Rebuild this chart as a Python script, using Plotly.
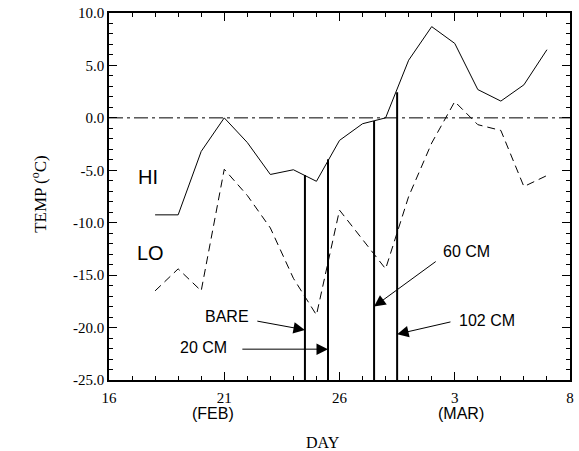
import plotly.graph_objects as go

# ---- data ----
days = list(range(2, 20))  # days after Feb 16 (0 = Feb 16, 20 = Mar 8)
hi_temp = [-9.25, -9.25, -3.2, 0.0, -2.35, -5.4, -4.95, -6.05, -2.15, -0.56, 0.0,
           5.5, 8.7, 7.1, 2.7, 1.6, 3.15, 6.5]
lo_temp = [-16.5, -14.4, -16.5, -4.9, -7.4, -10.5, -15.3, -18.8, -8.8, -11.6, -14.4,
           -7.5, -2.4, 1.55, -0.65, -1.2, -6.55, -5.5]

sensor_names = ["BARE", "20 CM", "60 CM", "102 CM"]
sensor_days = [8.5, 9.5, 11.5, 12.5]
sensor_tops = [-5.45, -3.95, -0.3, 2.45]
sensor_bottom = -25.0

# label positions (text centre), arrow tails and heads in data units
label_x = [5.13, 4.10, 15.53, 16.39]
label_y = [-18.98, -21.94, -12.73, -19.36]
arrow_tail_x = [6.37, 5.72, 14.24, 14.88]
arrow_tail_y = [-19.36, -22.06, -13.6, -19.43]
arrow_head_y = [-20.22, -22.06, -18.0, -20.63]

x_tick_vals = [0, 5, 10, 15, 20]
x_tick_text = ["16", "21", "26", "3", "8"]
y_tick_vals = [-25, -20, -15, -10, -5, 0, 5, 10]
y_tick_text = ["-25.0", "-20.0", "-15.0", "-10.0", "-5.0", "0.0", "5.0", "10.0"]

SERIF = "Liberation Serif, Times New Roman, serif"
SANS = "Liberation Sans, Arial, Helvetica, sans-serif"

fig = go.Figure()

# zero line
fig.add_trace(go.Scatter(x=[0, 20], y=[0, 0], mode="lines",
                         line=dict(color="black", width=1, dash="14px,4px,3px,4px"),
                         hoverinfo="skip", showlegend=False))
# HI
fig.add_trace(go.Scatter(x=days, y=hi_temp, mode="lines",
                         line=dict(color="black", width=1), showlegend=False))
# LO
fig.add_trace(go.Scatter(x=days, y=lo_temp, mode="lines",
                         line=dict(color="black", width=1, dash="8px,5px"), showlegend=False))
# sensor vertical lines
for sx, st in zip(sensor_days, sensor_tops):
    fig.add_trace(go.Scatter(x=[sx, sx], y=[sensor_bottom, st], mode="lines",
                             line=dict(color="black", width=2), showlegend=False))

annotations = []
for name, lx, ly, tx, ty, hx, hy in zip(sensor_names, label_x, label_y,
                                         arrow_tail_x, arrow_tail_y, sensor_days, arrow_head_y):
    annotations.append(dict(x=lx, y=ly, xref="x", yref="y", text=name, showarrow=False,
                            xanchor="center", yanchor="middle",
                            font=dict(family=SANS, size=16, color="black")))
    annotations.append(dict(x=hx, y=hy, xref="x", yref="y", ax=tx, ay=ty,
                            axref="x", ayref="y", text="", showarrow=True,
                            arrowhead=2, arrowsize=2.3, arrowwidth=1, arrowcolor="black",
                            standoff=0, startstandoff=0))

annotations += [
    dict(x=1.71, y=-5.67, xref="x", yref="y", text="HI", showarrow=False,
         xanchor="center", yanchor="middle",
         font=dict(family=SANS, size=20, color="black")),
    dict(x=1.78, y=-12.9, xref="x", yref="y", text="LO", showarrow=False,
         xanchor="center", yanchor="middle",
         font=dict(family=SANS, size=20, color="black")),
    dict(x=4.53, y=-0.09, xref="x", yref="paper", text="(FEB)", showarrow=False,
         xanchor="center", yanchor="middle",
         font=dict(family=SANS, size=16, color="black")),
    dict(x=15.27, y=-0.09, xref="x", yref="paper", text="(MAR)", showarrow=False,
         xanchor="center", yanchor="middle",
         font=dict(family=SANS, size=16, color="black")),
    dict(x=0.465, y=-0.169, xref="paper", yref="paper", text="DAY", showarrow=False,
         xanchor="center", yanchor="middle",
         font=dict(family=SERIF, size=16, color="black")),
    dict(x=-0.152, y=0.507, xref="paper", yref="paper", text="TEMP (<sup>o</sup>C)",
         textangle=-90, showarrow=False, xanchor="center", yanchor="middle",
         font=dict(family=SERIF, size=17, color="black")),
]

axis_common = dict(showgrid=False, zeroline=False, showline=True, linecolor="black",
                   linewidth=1.5, mirror="ticks", ticks="inside", ticklen=8, tickwidth=1,
                   tickcolor="black", tickfont=dict(family=SERIF, size=15, color="black"))

fig.update_layout(
    width=579, height=451,
    margin=dict(l=108.5, r=5, t=13.3, b=71),
    paper_bgcolor="white", plot_bgcolor="white",
    showlegend=False,
    annotations=annotations,
    xaxis=dict(range=[0, 20], tickmode="array", tickvals=x_tick_vals, ticktext=x_tick_text,
               ticklabelstandoff=3,
               minor=dict(dtick=1, ticks="inside", ticklen=4, tickcolor="black", tickwidth=1),
               **axis_common),
    yaxis=dict(range=[-25, 10], tickmode="array", tickvals=y_tick_vals, ticktext=y_tick_text,
               minor=dict(dtick=1, ticks="inside", ticklen=4, tickcolor="black", tickwidth=1),
               **axis_common),
)

fig.write_html("out.html", config={"displayModeBar": False},
               post_script="document.body.style.margin='0';")
